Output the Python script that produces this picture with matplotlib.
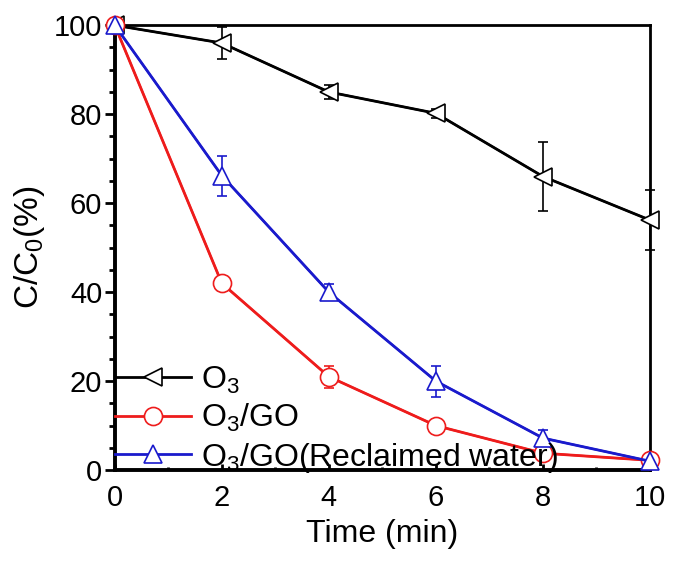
import matplotlib
matplotlib.use("Agg")
import matplotlib.pyplot as plt
from matplotlib.ticker import MultipleLocator

plt.rcParams["font.family"] = ["Liberation Sans", "DejaVu Sans"]
plt.rcParams["mathtext.fontset"] = "custom"
plt.rcParams["mathtext.rm"] = "Liberation Sans"
plt.rcParams["mathtext.default"] = "regular"

# data
time = [0, 2, 4, 6, 8, 10]

o3 = [100, 96, 85, 80.2, 66, 56.2]
o3_err = [0, 3.6, 1.5, 1.0, 7.8, 6.7]

o3_go = [100, 42, 21, 10, 3.8, 2.2]
o3_go_err = [0, 0.6, 2.5, 0.8, 0.6, 0.3]

o3_go_rw = [100, 66.2, 40, 20, 7.2, 2]
o3_go_rw_err = [0, 4.5, 1.8, 3.5, 1.8, 0.3]

labels = ["O$_3$", "O$_3$/GO", "O$_3$/GO(Reclaimed water)"]

fig = plt.figure(figsize=(6.75, 5.61), dpi=100)
ax = fig.add_axes([0.170, 0.162, 0.793, 0.793])

series = [
    (o3, o3_err, "black", "<", labels[0]),
    (o3_go, o3_go_err, "#ee1c1c", "o", labels[1]),
    (o3_go_rw, o3_go_rw_err, "#1a1acc", "^", labels[2]),
]

handles = []
for y, err, col, mk, lab in series:
    eb = ax.errorbar(time, y, yerr=err, color=col, ecolor=col, elinewidth=1.2,
                     capsize=3.5, capthick=1.2, zorder=3)
    for c in eb[1]:
        c.set_clip_on(False)
    for c in eb[2]:
        c.set_clip_on(False)
    ln, = ax.plot(time, y, color=col, lw=2, marker=mk, markersize=13,
                  mfc="white", mec=col, mew=1.2, label=lab, clip_on=False,
                  zorder=4)
    handles.append(ln)

ax.set_xlim(0, 10)
ax.set_ylim(0, 100)
ax.xaxis.set_major_locator(MultipleLocator(2))
ax.xaxis.set_minor_locator(MultipleLocator(1))
ax.yaxis.set_major_locator(MultipleLocator(20))
ax.yaxis.set_minor_locator(MultipleLocator(5))

ax.tick_params(axis="x", which="major", direction="in", length=4, width=2,
               labelsize=21, pad=10)
ax.tick_params(axis="x", which="minor", direction="in", length=2, width=2)
ax.tick_params(axis="y", which="major", direction="out", length=7, width=2,
               labelsize=21, pad=2)
ax.tick_params(axis="y", which="minor", direction="out", length=4, width=2)

for side in ["left", "bottom"]:
    ax.spines[side].set_linewidth(2.8)
for side in ["top", "right"]:
    ax.spines[side].set_linewidth(2)

ax.set_xlabel("Time (min)", fontsize=23, labelpad=5)
ax.set_ylabel("C/C$_0$(%)", fontsize=24, labelpad=5)

ax.legend(handles=handles, loc="lower left", bbox_to_anchor=(0.0, -0.01),
          frameon=False, fontsize=23, borderaxespad=0, borderpad=0,
          handlelength=2.4, handletextpad=0.3, labelspacing=0.2)

plt.savefig("out.png", dpi=100)
